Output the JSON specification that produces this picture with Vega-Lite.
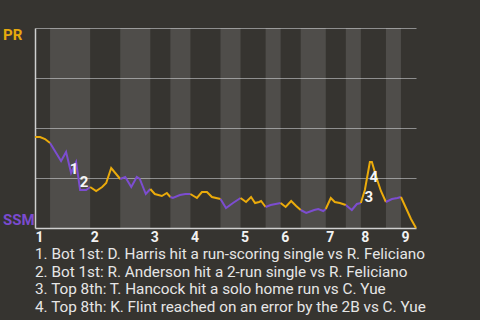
{
  "$schema": "https://vega.github.io/schema/vega-lite/v6.json",
  "width": 381,
  "height": 200,
  "autosize": "none",
  "padding": {"left": 35, "top": 28, "right": 64, "bottom": 92},
  "background": "#363430",
  "config": {
    "view": {"stroke": null},
    "font": "Roboto"
  },
  "title": {
    "text": [
      "1. Bot 1st: D. Harris hit a run-scoring single vs R. Feliciano",
      "2. Bot 1st: R. Anderson hit a 2-run single vs R. Feliciano",
      "3. Top 8th: T. Hancock hit a solo home run vs C. Yue",
      "4. Top 8th: K. Flint reached on an error by the 2B vs C. Yue"
    ],
    "orient": "bottom",
    "anchor": "start",
    "frame": "group",
    "baseline": "top",
    "offset": 3,
    "font": "Roboto",
    "fontSize": 15.3,
    "fontWeight": "normal",
    "color": "#e6e6e6",
    "lineHeight": 17.7
  },
  "datasets": {
    "halves": [
      {"h": "T1", "t": "PR", "start": 0, "end": 3},
      {"h": "B1", "t": "SSM", "start": 3, "end": 11},
      {"h": "T2", "t": "PR", "start": 11, "end": 17},
      {"h": "B2", "t": "SSM", "start": 17, "end": 23},
      {"h": "T3", "t": "PR", "start": 23, "end": 27},
      {"h": "B3", "t": "SSM", "start": 27, "end": 31},
      {"h": "T4", "t": "PR", "start": 31, "end": 37},
      {"h": "B4", "t": "SSM", "start": 37, "end": 41},
      {"h": "T5", "t": "PR", "start": 41, "end": 46},
      {"h": "B5", "t": "SSM", "start": 46, "end": 49},
      {"h": "T6", "t": "PR", "start": 49, "end": 53},
      {"h": "B6", "t": "SSM", "start": 53, "end": 58},
      {"h": "T7", "t": "PR", "start": 58, "end": 62},
      {"h": "B7", "t": "SSM", "start": 62, "end": 65},
      {"h": "T8", "t": "PR", "start": 65, "end": 70},
      {"h": "B8", "t": "SSM", "start": 70, "end": 73},
      {"h": "T9", "t": "PR", "start": 73, "end": 76}
    ],
    "wp": [
      {"h": "T1", "t": "PR", "pa": 0, "p": 0.455},
      {"h": "T1", "t": "PR", "pa": 1, "p": 0.455},
      {"h": "T1", "t": "PR", "pa": 2, "p": 0.445},
      {"h": "T1", "t": "PR", "pa": 3, "p": 0.425},
      {"h": "B1", "t": "SSM", "pa": 3, "p": 0.425},
      {"h": "B1", "t": "SSM", "pa": 5.2, "p": 0.335},
      {"h": "B1", "t": "SSM", "pa": 6.2, "p": 0.38},
      {"h": "B1", "t": "SSM", "pa": 7.2, "p": 0.275},
      {"h": "B1", "t": "SSM", "pa": 8.2, "p": 0.33},
      {"h": "B1", "t": "SSM", "pa": 9, "p": 0.19},
      {"h": "B1", "t": "SSM", "pa": 10.2, "p": 0.19},
      {"h": "B1", "t": "SSM", "pa": 11, "p": 0.205},
      {"h": "T2", "t": "PR", "pa": 11, "p": 0.205},
      {"h": "T2", "t": "PR", "pa": 12.2, "p": 0.185},
      {"h": "T2", "t": "PR", "pa": 13.4, "p": 0.205},
      {"h": "T2", "t": "PR", "pa": 14.2, "p": 0.225},
      {"h": "T2", "t": "PR", "pa": 15.2, "p": 0.3},
      {"h": "T2", "t": "PR", "pa": 17, "p": 0.245},
      {"h": "B2", "t": "SSM", "pa": 17, "p": 0.245},
      {"h": "B2", "t": "SSM", "pa": 18, "p": 0.255},
      {"h": "B2", "t": "SSM", "pa": 19.2, "p": 0.205},
      {"h": "B2", "t": "SSM", "pa": 20.3, "p": 0.255},
      {"h": "B2", "t": "SSM", "pa": 20.9, "p": 0.245},
      {"h": "B2", "t": "SSM", "pa": 22.1, "p": 0.17},
      {"h": "B2", "t": "SSM", "pa": 23, "p": 0.195},
      {"h": "T3", "t": "PR", "pa": 23, "p": 0.195},
      {"h": "T3", "t": "PR", "pa": 23.9, "p": 0.17},
      {"h": "T3", "t": "PR", "pa": 25.3, "p": 0.16},
      {"h": "T3", "t": "PR", "pa": 26.3, "p": 0.175},
      {"h": "T3", "t": "PR", "pa": 27, "p": 0.155},
      {"h": "B3", "t": "SSM", "pa": 27, "p": 0.155},
      {"h": "B3", "t": "SSM", "pa": 27.5, "p": 0.15},
      {"h": "B3", "t": "SSM", "pa": 28.9, "p": 0.165},
      {"h": "B3", "t": "SSM", "pa": 30, "p": 0.17},
      {"h": "B3", "t": "SSM", "pa": 31, "p": 0.17},
      {"h": "T4", "t": "PR", "pa": 31, "p": 0.17},
      {"h": "T4", "t": "PR", "pa": 32.3, "p": 0.15},
      {"h": "T4", "t": "PR", "pa": 33.3, "p": 0.18},
      {"h": "T4", "t": "PR", "pa": 34.3, "p": 0.18},
      {"h": "T4", "t": "PR", "pa": 35.3, "p": 0.155},
      {"h": "T4", "t": "PR", "pa": 37, "p": 0.145},
      {"h": "B4", "t": "SSM", "pa": 37, "p": 0.145},
      {"h": "B4", "t": "SSM", "pa": 38.1, "p": 0.1},
      {"h": "B4", "t": "SSM", "pa": 39.5, "p": 0.125},
      {"h": "B4", "t": "SSM", "pa": 41, "p": 0.15},
      {"h": "T5", "t": "PR", "pa": 41, "p": 0.15},
      {"h": "T5", "t": "PR", "pa": 42.1, "p": 0.13},
      {"h": "T5", "t": "PR", "pa": 43.1, "p": 0.155},
      {"h": "T5", "t": "PR", "pa": 43.9, "p": 0.125},
      {"h": "T5", "t": "PR", "pa": 44.7, "p": 0.13},
      {"h": "T5", "t": "PR", "pa": 45.1, "p": 0.135},
      {"h": "T5", "t": "PR", "pa": 46, "p": 0.105},
      {"h": "B5", "t": "SSM", "pa": 46, "p": 0.105},
      {"h": "B5", "t": "SSM", "pa": 47, "p": 0.115},
      {"h": "B5", "t": "SSM", "pa": 48, "p": 0.12},
      {"h": "B5", "t": "SSM", "pa": 49, "p": 0.125},
      {"h": "T6", "t": "PR", "pa": 49, "p": 0.125},
      {"h": "T6", "t": "PR", "pa": 50, "p": 0.105},
      {"h": "T6", "t": "PR", "pa": 51.1, "p": 0.135},
      {"h": "T6", "t": "PR", "pa": 52.1, "p": 0.11},
      {"h": "T6", "t": "PR", "pa": 53, "p": 0.09},
      {"h": "B6", "t": "SSM", "pa": 53, "p": 0.09},
      {"h": "B6", "t": "SSM", "pa": 54.1, "p": 0.075},
      {"h": "B6", "t": "SSM", "pa": 55.7, "p": 0.09},
      {"h": "B6", "t": "SSM", "pa": 56.5, "p": 0.095},
      {"h": "B6", "t": "SSM", "pa": 57.5, "p": 0.085},
      {"h": "B6", "t": "SSM", "pa": 58, "p": 0.095},
      {"h": "T7", "t": "PR", "pa": 58, "p": 0.095},
      {"h": "T7", "t": "PR", "pa": 59, "p": 0.15},
      {"h": "T7", "t": "PR", "pa": 59.8, "p": 0.13},
      {"h": "T7", "t": "PR", "pa": 60.8, "p": 0.125},
      {"h": "T7", "t": "PR", "pa": 62, "p": 0.115},
      {"h": "B7", "t": "SSM", "pa": 62, "p": 0.115},
      {"h": "B7", "t": "SSM", "pa": 63.2, "p": 0.09},
      {"h": "B7", "t": "SSM", "pa": 64.2, "p": 0.12},
      {"h": "B7", "t": "SSM", "pa": 65, "p": 0.125},
      {"h": "T8", "t": "PR", "pa": 65, "p": 0.125},
      {"h": "T8", "t": "PR", "pa": 65.8, "p": 0.19},
      {"h": "T8", "t": "PR", "pa": 66.8, "p": 0.33},
      {"h": "T8", "t": "PR", "pa": 67.2, "p": 0.33},
      {"h": "T8", "t": "PR", "pa": 68.2, "p": 0.245},
      {"h": "T8", "t": "PR", "pa": 69, "p": 0.185},
      {"h": "T8", "t": "PR", "pa": 70, "p": 0.13},
      {"h": "B8", "t": "SSM", "pa": 70, "p": 0.13},
      {"h": "B8", "t": "SSM", "pa": 71.2, "p": 0.145},
      {"h": "B8", "t": "SSM", "pa": 72.3, "p": 0.15},
      {"h": "B8", "t": "SSM", "pa": 73, "p": 0.155},
      {"h": "T9", "t": "PR", "pa": 73, "p": 0.155},
      {"h": "T9", "t": "PR", "pa": 74, "p": 0.1},
      {"h": "T9", "t": "PR", "pa": 75, "p": 0.045},
      {"h": "T9", "t": "PR", "pa": 76, "p": 0}
    ],
    "events": [
      {"n": "1", "pa": 7.8, "p": 0.295},
      {"n": "2", "pa": 9.8, "p": 0.23},
      {"n": "3", "pa": 66.6, "p": 0.155},
      {"n": "4", "pa": 67.6, "p": 0.255}
    ]
  },
  "layer": [
    {
      "data": {"name": "halves"},
      "transform": [{"filter": "datum.t == 'SSM'"}],
      "mark": {"type": "rect", "fill": "#ffffff", "opacity": 0.125},
      "encoding": {
        "x": {
          "field": "start", "type": "quantitative",
          "scale": {"domain": [0, 76], "nice": false, "zero": false},
          "axis": {
            "title": null,
            "values": [0, 11, 23, 31, 41, 49, 58, 65, 73],
            "labelExpr": "'' + (indexof([0, 11, 23, 31, 41, 49, 58, 65, 73], datum.value) + 1)",
            "labelAlign": "left",
            "labelFont": "Roboto",
            "labelFontSize": 14,
            "labelFontWeight": "bold",
            "labelColor": "#f2f2f2",
            "labelPadding": 2,
            "labelOverlap": false,
            "labelFlush": false,
            "ticks": false,
            "grid": false,
            "domainColor": "#cfcfcf",
            "domainWidth": 1.5
          }
        },
        "x2": {"field": "end"}
      }
    },
    {
      "data": {"name": "wp"},
      "mark": {"type": "line", "strokeWidth": 2, "strokeJoin": "miter", "interpolate": "linear"},
      "encoding": {
        "x": {"field": "pa", "type": "quantitative", "title": null},
        "y": {
          "field": "p", "type": "quantitative",
          "scale": {"domain": [0, 1], "nice": false},
          "axis": {
            "title": null,
            "values": [0.25, 0.5, 0.75, 1],
            "labels": false,
            "ticks": false,
            "grid": true,
            "gridColor": "#8e8e8e",
            "gridWidth": 1.2,
            "domainColor": "#cfcfcf",
            "domainWidth": 1.5
          }
        },
        "detail": {"field": "h"},
        "color": {
          "field": "t", "type": "nominal",
          "scale": {"domain": ["PR", "SSM"], "range": ["#ebab0b", "#7c4dd0"]},
          "legend": null
        },
        "order": {"field": "pa", "type": "quantitative"}
      }
    },
    {
      "data": {"name": "events"},
      "mark": {"type": "text", "font": "Roboto", "fontSize": 15, "fontWeight": "bold", "color": "#f7f7f7", "align": "center", "baseline": "middle"},
      "encoding": {
        "x": {"field": "pa", "type": "quantitative", "title": null},
        "y": {"field": "p", "type": "quantitative", "title": null},
        "text": {"field": "n"}
      }
    },
    {
      "data": {"values": [{"team": "PR", "p": 1}]},
      "mark": {"type": "text", "font": "Roboto", "fontSize": 15, "fontWeight": "bold", "color": "#e6a90d", "align": "left", "baseline": "top", "dx": -32},
      "encoding": {
        "x": {"datum": 0, "type": "quantitative"},
        "y": {"field": "p", "type": "quantitative", "title": null},
        "text": {"field": "team"}
      }
    },
    {
      "data": {"values": [{"team": "SSM", "p": 0}]},
      "mark": {"type": "text", "font": "Roboto", "fontSize": 15, "fontWeight": "bold", "color": "#7a4bcf", "align": "left", "baseline": "alphabetic", "dx": -32, "dy": -3},
      "encoding": {
        "x": {"datum": 0, "type": "quantitative"},
        "y": {"field": "p", "type": "quantitative", "title": null},
        "text": {"field": "team"}
      }
    }
  ]
}
